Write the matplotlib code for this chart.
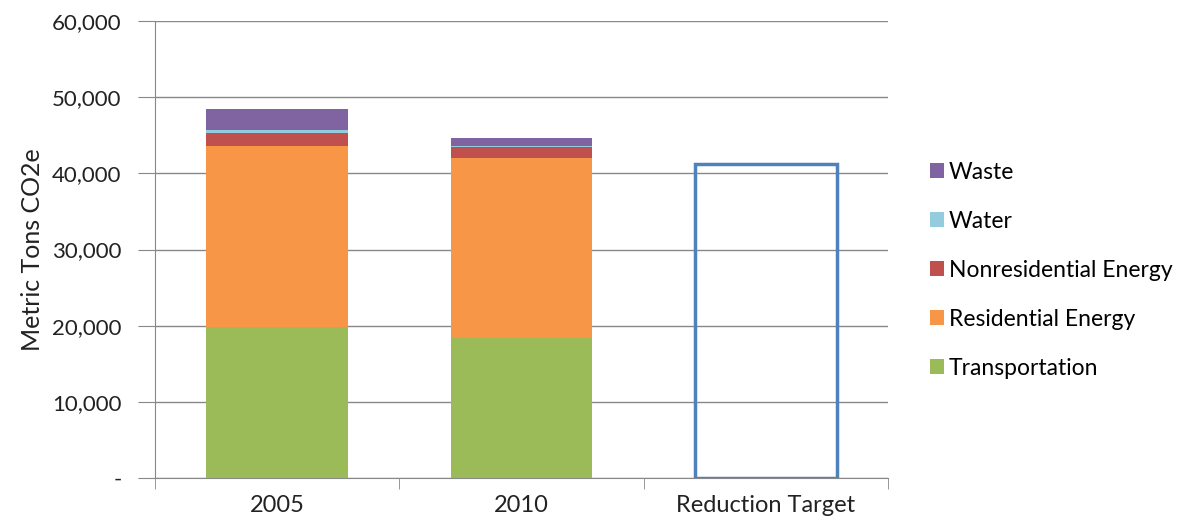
import numpy as np
import matplotlib
matplotlib.use("Agg")
import matplotlib.pyplot as plt
from matplotlib.patches import Patch

plt.rcParams['font.family'] = ['Lato', 'DejaVu Sans']

categories = ["2005", "2010", "Reduction Target"]
transportation = [19780, 18410]
residential = [23830, 23540]
nonresidential = [1700, 1490]
water = [360, 170]
waste = [2720, 1050]
target = 41170

series = [
    ("Transportation", transportation, "#9BBB59"),
    ("Residential Energy", residential, "#F79646"),
    ("Nonresidential Energy", nonresidential, "#C0504D"),
    ("Water", water, "#93CDDD"),
    ("Waste", waste, "#8064A2"),
]

fig = plt.figure(figsize=(11.96, 5.25), dpi=100)
ax = fig.add_axes([0.1296, 0.0895, 0.613, 0.8705])

x = np.arange(len(categories))
w = 0.58
bottom = np.zeros(2)
for name, vals, col in series:
    ax.bar(x[:2], vals, w, bottom=bottom, color=col, label=name, zorder=3)
    bottom += np.array(vals)

ax.bar(x[2], target, w, fill=False, edgecolor="#4F81BD", linewidth=2.5, zorder=3)

ax.set_xlim(-0.5, 2.5)
ax.set_ylim(0, 60000)
ax.set_yticks(np.arange(0, 60001, 10000))
ax.set_yticklabels(["-"] + [f"{v:,}" for v in range(10000, 60001, 10000)])
ax.set_xticks(x)
ax.set_xticklabels(categories)
ax.set_xticks([-0.5, 0.5, 1.5, 2.5], minor=True)
ax.tick_params(axis="x", which="major", length=0, pad=12, labelsize=17, colors="#222222")
ax.tick_params(axis="x", which="minor", length=8, color="#888888", direction="out")
ax.tick_params(axis="y", length=12, color="#888888", labelsize=16, pad=12, colors="#222222")
ax.yaxis.grid(True, color="#888888", linewidth=1, zorder=0)

for s in ["top", "right"]:
    ax.spines[s].set_visible(False)
for s in ["left", "bottom"]:
    ax.spines[s].set_color("#888888")

ax.set_ylabel("Metric Tons CO2e", fontsize=18, color="#222222", labelpad=6)

handles = [Patch(facecolor=c, label=n) for n, _, c in series][::-1]
fig.legend(handles=handles, loc="upper left", bbox_to_anchor=(0.76, 0.731),
           frameon=False, fontsize=16.5, handlelength=0.65, handleheight=0.65,
           handletextpad=0.2, labelspacing=1.22)

fig.savefig("out.png", dpi=100)
